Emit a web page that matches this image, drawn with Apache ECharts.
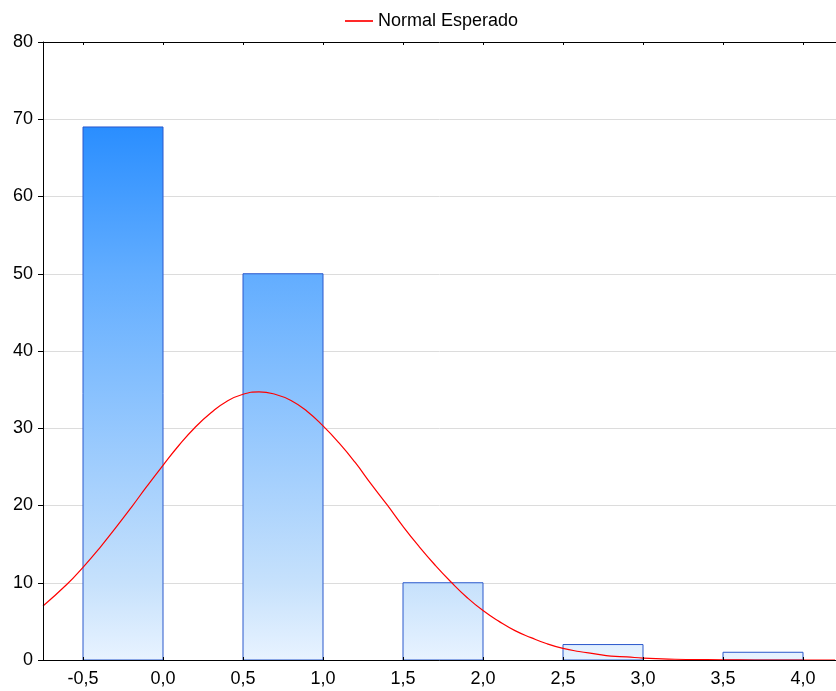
<!DOCTYPE html>
<html><head><meta charset="utf-8">
<script src="https://cdn.jsdelivr.net/npm/echarts@6/dist/echarts.min.js"></script>
<style>html,body{margin:0;padding:0;background:#fff}#c{width:836px;height:691px}</style>
</head><body><div id="c"></div>
<script>
// Histogram bins
const binStarts = [-0.5, 0.5, 1.5, 2.5, 3.5];
const binEnds   = [0.0, 1.0, 2.0, 3.0, 4.0];
const counts    = [69, 50, 10, 2, 1];
// Expected normal curve
const curveX = [-0.75,-0.6,-0.5,-0.4,-0.3,-0.2,-0.1,0.0,0.1,0.2,0.3,0.4,0.5,0.6,0.7,0.8,0.9,1.0,1.1,1.2,1.3,1.4,1.5,1.6,1.7,1.8,1.9,2.0,2.1,2.2,2.3,2.4,2.5,2.6,2.7,2.8,2.9,3.0,3.2,3.4,3.6,3.8,4.0,4.2];
const curveY = [7.0,9.8,12.0,14.4,17.0,19.7,22.5,25.2,27.8,30.1,32.0,33.5,34.4,34.7,34.4,33.6,32.2,30.3,28.1,25.6,22.8,20.1,17.3,14.7,12.3,10.1,8.1,6.4,5.0,3.8,2.9,2.1,1.5,1.1,0.8,0.5,0.4,0.24,0.1,0.04,0.01,0,0,0];
const yTicks = [0,10,20,30,40,50,60,70,80];
const xTicks = [-0.5,0,0.5,1,1.5,2,2.5,3,3.5,4];
const legendName = 'Normal Esperado';

const chart = echarts.init(document.getElementById('c'), null, {renderer:'canvas'});
const fmt = v => v.toFixed(1).replace('.', ',');
const font = 'Liberation Sans, Arial, sans-serif';
const X_MIN = -0.75, X_MAX = 4.20625;

const barData = binStarts.map((s,i)=>[s, binEnds[i], counts[i]]);
const curveData = curveX.map((x,i)=>[x, curveY[i]]);

chart.setOption({
  animation:false,
  legend:{
    data:[legendName], top:7, left:340, itemWidth:28, itemHeight:16, itemGap:9,
    textStyle:{fontFamily:font, fontSize:18, color:'#000'},
    icon:'path://M0,0.5 L1,0.5 L1,0.56 L0,0.56 Z'
  },
  grid:{left:43, right:0, top:42, bottom:31},
  xAxis:[{
    type:'value', min:X_MIN, max:X_MAX, z:10,
    axisLine:{show:true, onZero:false, lineStyle:{color:'#000', width:1}},
    axisTick:{show:true, inside:true, length:3, lineStyle:{color:'#000'}, customValues:xTicks},
    axisLabel:{customValues:xTicks, formatter:fmt, fontFamily:font, fontSize:18, color:'#000', margin:10},
    splitLine:{show:false}
  },{
    type:'value', position:'top', min:X_MIN, max:X_MAX, z:10,
    axisLine:{show:true, onZero:false, lineStyle:{color:'#000', width:1}},
    axisTick:{show:true, inside:true, length:3, lineStyle:{color:'#000'}, customValues:xTicks},
    axisLabel:{show:false},
    splitLine:{show:false}
  }],
  yAxis:[{
    type:'value', min:0, max:80, interval:10, z:0,
    axisLine:{show:false, onZero:false},
    axisTick:{show:false},
    axisLabel:{show:false},
    splitLine:{show:true, lineStyle:{color:'#dcdcdc', width:1}}
  },{
    type:'value', position:'left', min:0, max:80, interval:10, z:10,
    axisLine:{show:true, onZero:false, lineStyle:{color:'#000', width:1}},
    axisTick:{show:true, length:5, lineStyle:{color:'#000'}},
    axisLabel:{fontFamily:font, fontSize:18, color:'#000', margin:10},
    splitLine:{show:false}
  }],
  series:[{
    type:'custom',
    name:'hist',
    renderItem:function(params, api){
      const p0 = api.coord([api.value(0), api.value(2)]);
      const p1 = api.coord([api.value(1), 0]);
      const top80 = api.coord([0, 80]);
      const bot0 = api.coord([0, 0]);
      return {
        type:'rect',
        shape:{x:p0[0], y:p0[1], width:p1[0]-p0[0], height:p1[1]-p0[1]},
        style:{
          fill:new echarts.graphic.LinearGradient(0, top80[1], 0, bot0[1], [
            {offset:0, color:'#1A82FF'},
            {offset:0.1375, color:'#2A8EFF'},
            {offset:0.375, color:'#62ADFF'},
            {offset:0.875, color:'#C6E1FC'},
            {offset:1, color:'#E8F3FF'}
          ], true),
          stroke:'#2A58CC', lineWidth:1
        }
      };
    },
    encode:{x:[0,1], y:2},
    data:barData,
    xAxisIndex:0, yAxisIndex:0,
    z:2
  },{
    type:'line', name:legendName, data:curveData, smooth:true, showSymbol:false,
    xAxisIndex:0, yAxisIndex:0,
    lineStyle:{color:'#ff0000', width:1.2}, itemStyle:{color:'#ff0000'}, z:5, clip:true
  }]
});
</script></body></html>
